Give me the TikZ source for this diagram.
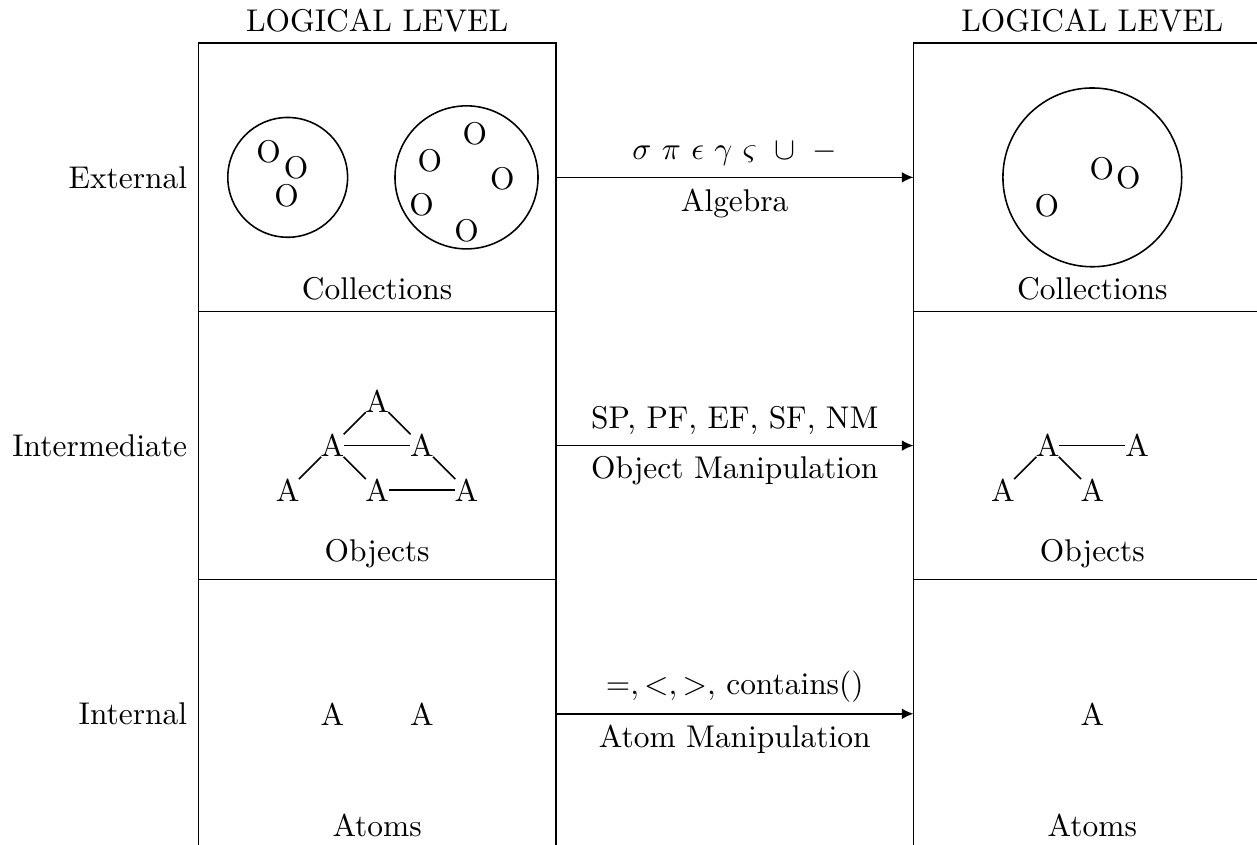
\documentclass[tikz,border=0pt]{standalone}
\usetikzlibrary{arrows.meta}
\begin{document}
\begin{tikzpicture}[
  line width=0.5pt,
  level/.style={draw, rectangle, minimum width=4cm, minimum height=3cm,
                inner sep=0pt, outer sep=0pt},
  coll/.style={draw, circle, inner sep=0pt, outer sep=0pt},
  atom/.style={inner sep=0pt, outer sep=0pt},
  link/.style={draw},
  op/.style={-{Latex[length=3.7pt,width=3.4pt]}}
]
\useasboundingbox (-2.218,0.043) rectangle (11.842,9.484);

% left column of levels
\node[level] (L1) at (2,7.5) {};
\node[level] (L2) at (2,4.5) {};
\node[level] (L3) at (2,1.5) {};
% right column of levels
\node[level] (R1) at (10,7.5) {};
\node[level] (R2) at (10,4.5) {};
\node[level] (R3) at (10,1.5) {};

% headings
\node[above] (hL) at (L1.north) {LOGICAL LEVEL};
\node[above] (hR) at (R1.north) {LOGICAL LEVEL};

% row names
\node[left] (nExt) at (L1.west) {External};
\node[left] (nInt) at (L2.west) {Intermediate};
\node[left] (nIn)  at (L3.west) {Internal};

% captions inside the boxes
\node[above] (cL1) at (L1.south) {Collections};
\node[above] (cL2) at (L2.south) {Objects};
\node[above] (cL3) at (L3.south) {Atoms};
\node[above] (cR1) at (R1.south) {Collections};
\node[above] (cR2) at (R2.south) {Objects};
\node[above] (cR3) at (R3.south) {Atoms};

% collections, left
\node[coll, minimum size=1.34cm] (c1) at (1,7.5) {};
\node (o11) at (0.786,7.79) {O};
\node (o12) at (1.094,7.605) {O};
\node (o13) at (0.988,7.295) {O};
\node[coll, minimum size=1.6cm] (c2) at (3,7.5) {};
\node (o21) at (3.093,7.986) {O};
\node (o22) at (2.59,7.687) {O};
\node (o23) at (3.40,7.482) {O};
\node (o24) at (2.497,7.195) {O};
\node (o25) at (3.0,6.904) {O};
% collection, right
\node[coll, minimum size=2cm] (c3) at (10,7.5) {};
\node (o31) at (10.106,7.597) {O};
\node (o32) at (10.404,7.5) {O};
\node (o33) at (9.491,7.187) {O};

% object graph, left
\node[atom] (a1) at (2,5) {A};
\node[atom] (a2) at (1.5,4.5) {A};
\node[atom] (a3) at (2.5,4.5) {A};
\node[atom] (a4) at (1,4) {A};
\node[atom] (a5) at (2,4) {A};
\node[atom] (a6) at (3,4) {A};
\draw[link] (a1) -- (a2);
\draw[link] (a1) -- (a3);
\draw[link] (a2) -- (a3);
\draw[link] (a2) -- (a4);
\draw[link] (a2) -- (a5);
\draw[link] (a3) -- (a6);
\draw[link] (a5) -- (a6);

% object graph, right
\node[atom] (b1) at (9.5,4.5) {A};
\node[atom] (b2) at (10.5,4.5) {A};
\node[atom] (b3) at (9,4) {A};
\node[atom] (b4) at (10,4) {A};
\draw[link] (b1) -- (b2);
\draw[link] (b1) -- (b3);
\draw[link] (b1) -- (b4);

% atoms
\node (t1) at (1.5,1.5) {A};
\node (t2) at (2.5,1.5) {A};
\node (t3) at (10,1.5) {A};

% operations between the levels
\draw[op] (L1.east) -- node[above] {$\sigma\ \pi\ \epsilon\ \gamma\ \varsigma\ \cup\ -$}
                       node[below] {Algebra} (R1.west);
\draw[op] (L2.east) -- node[above] {SP, PF, EF, SF, NM}
                       node[below] {Object Manipulation} (R2.west);
\draw[op] (L3.east) -- node[above] {$=,<,>,$ contains()}
                       node[below] {Atom Manipulation} (R3.west);
\end{tikzpicture}
\end{document}
